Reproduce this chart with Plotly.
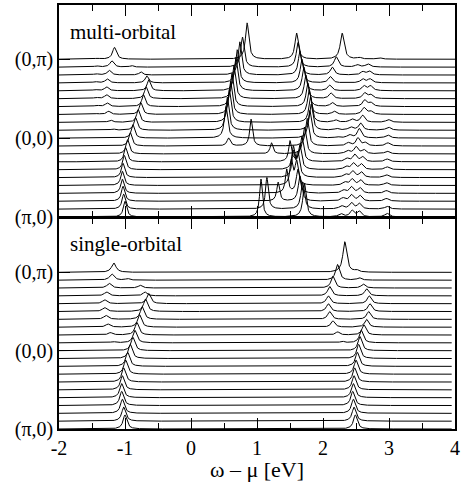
import numpy as np
import plotly.graph_objects as go

nan = float("nan")

# ---------------- data: peak positions (eV) and heights (in offset units) per k-point ----------------
# k index 0 = (pi,0) ... 10 = (0,0) ... 20 = (0,pi)
k_labels = ["(π,0)", "(0,0)", "(0,π)"]
k_label_idx = [0, 10, 20]

# single-orbital
s_low_pos = [-1.00, -1.02, -1.04, -1.05, -1.05, -1.04, -1.02, -0.99, -0.96, -0.92, -0.88,
             -0.85, -0.82, -0.78, -0.74, -0.69, -0.64, -0.70, -0.77, -0.96, nan]
s_low_h = [1.8, 1.8, 1.8, 1.8, 1.8, 1.8, 1.8, 1.8, 1.8, 1.8, 1.7,
           1.6, 1.6, 1.6, 1.6, 1.6, 1.3, 0.5, 0.35, 0.2, nan]
s_sat_pos = [nan] * 11 + [-1.18, -1.22, -1.26, -1.29, -1.31, -1.31, -1.28, -1.24, -1.20, -1.17]
s_sat_h = [nan] * 11 + [0.15, 0.3, 0.4, 0.5, 0.5, 0.5, 0.5, 0.6, 0.8, 1.2]
s_up_pos = [2.49, 2.47, 2.46, 2.45, 2.46, 2.47, 2.48, 2.50, 2.52, 2.54, 2.56,
            2.58, 2.62, 2.66, 2.69, 2.71, 2.70, 2.66, 2.61, 2.55, 2.51]
s_up_h = [1.8, 1.8, 1.8, 1.8, 1.8, 1.8, 1.8, 1.8, 1.8, 1.8, 1.8,
          1.6, 1.3, 1.0, 1.0, 1.0, 1.0, 0.9, 0.5, 0.3, 0.25]
s_up2_pos = [nan] * 11 + [2.29, 2.22, 2.15, 2.10, 2.08, 2.08, 2.10, 2.15, 2.22, 2.33]
s_up2_h = [nan] * 11 + [0.2, 0.4, 0.8, 1.0, 1.0, 1.0, 1.2, 1.5, 2.0, 3.9]

# multi-orbital
m_low_pos = [-1.00, -1.02, -1.03, -1.04, -1.04, -1.03, -1.01, -0.99, -0.96, -0.92, -0.88,
             -0.84, -0.80, -0.76, -0.72, -0.68, -0.64, -0.67, -0.76, -0.90, nan]
m_low_h = [2.0, 1.9, 1.9, 1.8, 1.8, 1.8, 1.8, 1.8, 1.8, 1.7, 1.7,
           1.6, 1.6, 1.5, 1.5, 1.5, 1.4, 0.9, 0.4, 0.2, nan]
m_sat_pos = [nan] * 11 + [-1.18, -1.22, -1.25, -1.27, -1.28, -1.28, -1.27, -1.24, -1.20, -1.16]
m_sat_h = [nan] * 11 + [0.15, 0.3, 0.4, 0.45, 0.5, 0.5, 0.5, 0.6, 0.8, 1.5]
m_sat2_pos = [nan] * 13 + [-1.42, -1.43, -1.44, -1.45, -1.45, -1.44, -1.43, -1.42]
m_sat2_h = [nan] * 13 + [0.1, 0.15, 0.15, 0.15, 0.15, 0.15, 0.15, 0.1]
m_mid_pos = [nan] * 9 + [0.57, 0.53, 0.55, 0.58, 0.60, 0.62, 0.65, 0.68, 0.70, 0.74, 0.78, 0.85]
m_mid_h = [nan] * 9 + [1.0, 4.0, 4.2, 4.2, 4.2, 4.2, 4.2, 4.2, 4.2, 4.2, 3.8, 4.6]
m_b_pos = [1.06, 1.15, 1.32, 1.45, 1.52, 1.55, 1.55, 1.50, 1.22, 0.91] + [nan] * 11
m_b_h = [4.8, 4.0, 2.4, 3.0, 3.0, 3.0, 2.8, 2.6, 1.4, 3.4] + [nan] * 11
m_c_pos = [1.72, 1.69, 1.65, 1.62, 1.60, 1.62, 1.65, 1.68, 1.72, 1.76, 1.80,
           1.82, 1.81, 1.79, 1.77, 1.74, 1.71, 1.68, 1.65, 1.62, 1.60]
m_c_h = [4.2, 3.4, 3.2, 3.0, 3.0, 3.0, 3.0, 3.2, 3.4, 3.5, 3.5,
         3.3, 3.2, 3.1, 3.0, 3.0, 3.0, 3.0, 3.0, 3.1, 3.3]
m_d_pos = [nan] * 10 + [2.22, 2.21, 2.19, 2.17, 2.14, 2.12, 2.10, 2.11, 2.14, 2.20, 2.29]
m_d_h = [nan] * 10 + [0.15, 0.2, 0.3, 0.4, 0.5, 0.7, 0.7, 0.8, 1.0, 1.3, 3.3]
m_e1_pos = [2.44, 2.43, 2.43, 2.43, 2.44, 2.45, 2.46, 2.48, 2.50, 2.53, 2.55,
            2.57, 2.60, 2.62, 2.63, 2.63, 2.62, 2.60, 2.60, 2.52, 2.55]
m_e1_h = [0.8, 0.8, 0.8, 0.8, 0.8, 0.8, 0.8, 0.9, 0.9, 1.0, 1.2,
          0.9, 0.9, 0.85, 0.8, 0.7, 0.6, 0.5, 0.4, 0.3, 0.2]
m_e2_pos = [2.27, 2.28, 2.30, 2.31, 2.33, 2.34, 2.35, 2.36, 2.37, 2.38, 2.40, 2.42, 2.44] + [nan] * 8
m_e2_h = [0.4] * 13 + [nan] * 8
m_e3_pos = [2.97, 2.97, 2.96, 2.96, 2.96, 2.96, 2.97, 2.97, 2.97, 2.98, 2.98, 2.99, 2.99] + [nan] * 8
m_e3_h = [0.45, 0.35, 0.35, 0.35, 0.35, 0.35, 0.35, 0.35, 0.35, 0.4, 0.4, 0.4, 0.35] + [nan] * 8
m_e4_pos = [nan] * 13 + [2.72, 2.72, 2.72, 2.72, 2.71, 2.70, 2.68, 2.85]
m_e4_h = [nan] * 13 + [0.4, 0.5, 0.5, 0.6, 0.5, 0.5, 0.4, 0.2]
m_e5_pos = [2.55, 2.55, 2.56, 2.56, 2.57, 2.58, 2.58, 2.60, 2.62, 2.64] + [nan] * 11
m_e5_h = [0.7, 0.7, 0.7, 0.7, 0.7, 0.7, 0.7, 0.6, 0.5, 0.4] + [nan] * 11

single_bands = [(s_low_pos, s_low_h, 0.035), (s_sat_pos, s_sat_h, 0.04),
                (s_up_pos, s_up_h, 0.035), (s_up2_pos, s_up2_h, 0.035)]
multi_bands = [(m_low_pos, m_low_h, 0.03), (m_sat_pos, m_sat_h, 0.035), (m_sat2_pos, m_sat2_h, 0.04),
               (m_mid_pos, m_mid_h, 0.03), (m_b_pos, m_b_h, 0.025), (m_c_pos, m_c_h, 0.03),
               (m_d_pos, m_d_h, 0.035), (m_e1_pos, m_e1_h, 0.035), (m_e2_pos, m_e2_h, 0.04),
               (m_e3_pos, m_e3_h, 0.04), (m_e4_pos, m_e4_h, 0.04), (m_e5_pos, m_e5_h, 0.035)]

NK = 21
x_top = np.linspace(-2, 4, 1801)
x_bot = np.linspace(-2, 3.95, 1786)


def spectrum(x, k, bands):
    y = np.full_like(x, float(k))
    for pos, h, g in bands:
        p, a = pos[k], h[k]
        if np.isnan(p) or np.isnan(a):
            continue
        y = y + a * g * g / ((x - p) ** 2 + g * g)
    return y


fig = go.Figure()
for k in range(NK):
    fig.add_trace(go.Scatter(x=x_top, y=spectrum(x_top, k, multi_bands), mode="lines",
                             line=dict(color="black", width=1), xaxis="x2", yaxis="y2",
                             showlegend=False, hoverinfo="skip"))
    fig.add_trace(go.Scatter(x=x_bot, y=spectrum(x_bot, k, single_bands), mode="lines",
                             line=dict(color="black", width=1), xaxis="x", yaxis="y",
                             showlegend=False, hoverinfo="skip"))

FONT = "Liberation Serif"
PLOT_H = 430.0
LW = 1.5
xt = [-2, -1, 0, 1, 2, 3, 4]
xaxis_common = dict(range=[-2, 4], tickvals=xt, ticktext=[str(v) for v in xt],
                    ticks="inside", ticklen=11, tickwidth=1, tickcolor="black",
                    minor=dict(dtick=0.5, tick0=0, ticks="inside", ticklen=6, tickwidth=1, tickcolor="black"),
                    showline=True, linecolor="black", linewidth=LW, mirror="ticks",
                    showgrid=False, zeroline=False)
yrng = [0, 26.875]
yaxis_common = dict(range=yrng, tickvals=k_label_idx, ticktext=k_labels, ticks="inside",
                    ticklen=11, tickwidth=1, tickcolor="black", showline=True, linecolor="black",
                    linewidth=LW, mirror=True, showgrid=False, zeroline=False,
                    tickfont=dict(family=FONT, size=20, color="black"))

split = 0.5
shift = LW / PLOT_H  # make the two separating axis lines coincide

fig.update_layout(
    width=463, height=482, margin=dict(l=59, r=6, t=3, b=49),
    paper_bgcolor="white", plot_bgcolor="white",
    font=dict(family=FONT, size=20, color="black"),
    xaxis=dict(**xaxis_common, domain=[0, 1], anchor="y", showticklabels=True,
               tickfont=dict(family=FONT, size=20, color="black"),
               title=dict(text="ω – μ [eV]", font=dict(family=FONT, size=22, color="black"), standoff=5)),
    yaxis=dict(**yaxis_common, domain=[0, split - shift], anchor="x"),
    xaxis2=dict(**xaxis_common, domain=[0, 1], anchor="y2", showticklabels=False, matches="x"),
    yaxis2=dict(**yaxis_common, domain=[split, 1], anchor="x2"),
    annotations=[
        dict(text="multi-orbital", xref="paper", yref="paper", x=0.0226, y=0.937,
             xanchor="left", yanchor="middle", showarrow=False,
             font=dict(family=FONT, size=21, color="black")),
        dict(text="single-orbital", xref="paper", yref="paper", x=0.0226, y=0.437,
             xanchor="left", yanchor="middle", showarrow=False,
             font=dict(family=FONT, size=21, color="black")),
    ],
)

fig.write_html("out.html")
